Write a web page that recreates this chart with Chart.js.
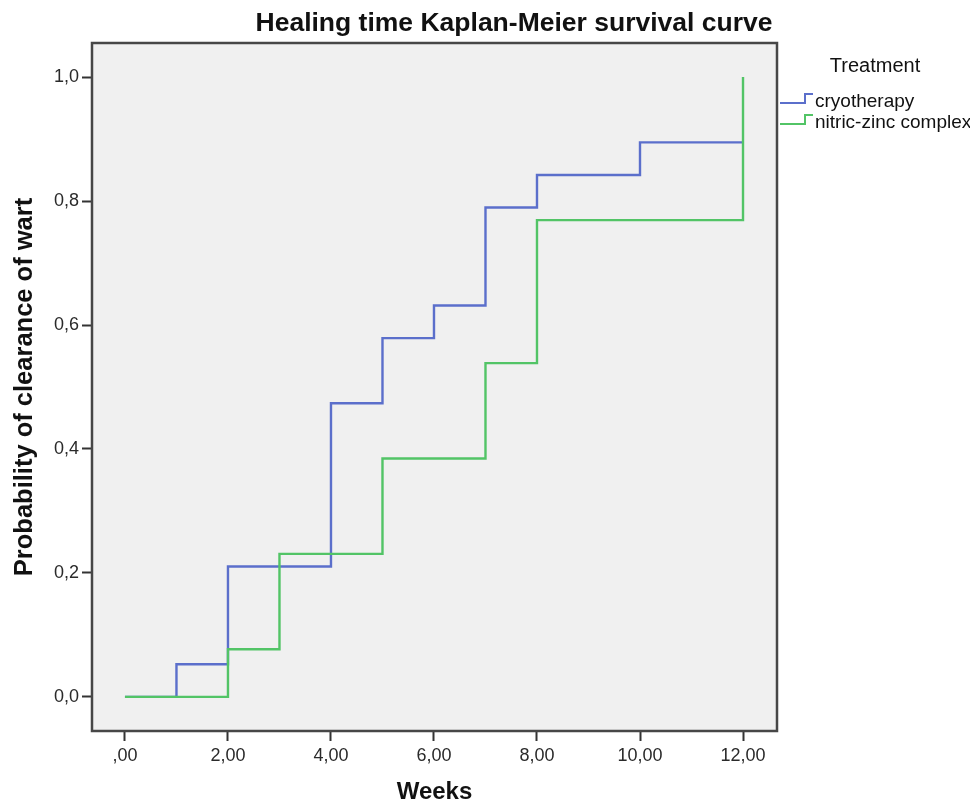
<!DOCTYPE html>
<html>
<head>
<meta charset="utf-8">
<script src="https://cdn.jsdelivr.net/npm/chart.js@4.4.1/dist/chart.umd.min.js"></script>
<style>
  html, body { margin: 0; padding: 0; background: #fff; }
  #km { display: block; }
</style>
</head>
<body>
<canvas id="km" width="970" height="807"></canvas>
<script>
// Kaplan-Meier steps (week of event, cumulative probability after it)
const weeksCryo   = [0, 1, 2, 4, 5, 6, 7, 8, 10, 12];
const probCryo    = [0, 0.0526, 0.2105, 0.4737, 0.5789, 0.6316, 0.7895, 0.8421, 0.8947, 0.8947];
const weeksNitric = [0, 2, 3, 5, 7, 8, 12];
const probNitric  = [0, 0.0769, 0.2308, 0.3846, 0.5385, 0.7692, 1.0];

const seriesLabels = ['cryotherapy', 'nitric-zinc complex'];
const seriesColors = ['#5b6fcb', '#52c466'];
const xTicks = [0, 2, 4, 6, 8, 10, 12];
const yTicks = [0, 0.2, 0.4, 0.6, 0.8, 1.0];

const FONT = '"Liberation Sans", Arial, sans-serif';

function _points(xs, ys) {
    return xs.map((x, i) => ({ x, y: ys[i] }));
}

// Panel background + frame, title and the step-style legend
const spssLook = {
    id: 'spssLook',
    beforeDatasetsDraw(chart) {
        const { ctx, chartArea: a } = chart;
        ctx.save();
        ctx.fillStyle = '#f0f0f0';
        ctx.fillRect(a.left, a.top, a.right - a.left, a.bottom - a.top);
        ctx.restore();
    },
    afterDraw(chart) {
        const { ctx, chartArea: a } = chart;
        ctx.save();
        ctx.strokeStyle = '#474747';
        ctx.lineWidth = 2.5;
        ctx.strokeRect(a.left, a.top, a.right - a.left, a.bottom - a.top);

        ctx.fillStyle = '#111';
        ctx.textAlign = 'center';
        ctx.textBaseline = 'middle';
        ctx.font = 'bold 26.5px ' + FONT;
        ctx.fillText('Healing time Kaplan-Meier survival curve', 514, 24);

        ctx.font = '20px ' + FONT;
        ctx.fillText('Treatment', 875, 66);

        ctx.textAlign = 'left';
        ctx.font = '19px ' + FONT;
        chart.data.datasets.forEach((ds, i) => {
            const y0 = 103 + i * 21;
            ctx.strokeStyle = ds.borderColor;
            ctx.lineWidth = 2;
            ctx.beginPath();
            ctx.moveTo(780, y0);
            ctx.lineTo(805, y0);
            ctx.lineTo(805, y0 - 9);
            ctx.lineTo(813, y0 - 9);
            ctx.stroke();
            ctx.fillStyle = '#111';
            ctx.fillText(ds.label, 815, y0 - 1);
        });
        ctx.restore();
    }
};

new Chart(document.getElementById('km'), {
    type: 'line',
    data: {
        datasets: [
            {
                label: seriesLabels[0],
                data: _points(weeksCryo, probCryo),
                borderColor: seriesColors[0],
                order: 2,
            },
            {
                label: seriesLabels[1],
                data: _points(weeksNitric, probNitric),
                borderColor: seriesColors[1],
                order: 1,
            }
        ]
    },
    options: {
        responsive: false,
        animation: false,
        parsing: false,
        layout: { padding: { left: 0, top: 43, right: 193, bottom: 0 } },
        elements: {
            line: { stepped: 'before', borderWidth: 2.4, fill: false, tension: 0 },
            point: { radius: 0, hoverRadius: 0 }
        },
        plugins: { legend: { display: false }, tooltip: { enabled: false }, title: { display: false } },
        scales: {
            x: {
                type: 'linear',
                min: -0.64,
                max: 12.66,
                afterBuildTicks: s => { s.ticks = xTicks.map(v => ({ value: v })); },
                afterFit: s => { s.height = 76; },
                border: { display: false },
                grid: { drawOnChartArea: false, tickLength: 10, tickWidth: 2, tickColor: '#333' },
                ticks: {
                    font: { size: 18, family: FONT },
                    color: '#2a2a2a',
                    padding: 4,
                    maxRotation: 0,
                    callback: v => v === 0 ? ',00' : v.toFixed(2).replace('.', ',')
                },
                title: {
                    display: true,
                    text: 'Weeks',
                    color: '#111',
                    font: { size: 24, weight: 'bold', family: FONT },
                    padding: { top: 0, bottom: 0 }
                }
            },
            y: {
                type: 'linear',
                min: -0.055,
                max: 1.055,
                afterBuildTicks: s => { s.ticks = yTicks.map(v => ({ value: v })); },
                afterFit: s => { s.width = 92; },
                border: { display: false },
                grid: { drawOnChartArea: false, tickLength: 10, tickWidth: 2, tickColor: '#333' },
                ticks: {
                    font: { size: 18, family: FONT },
                    color: '#2a2a2a',
                    padding: 3,
                    callback: v => v.toFixed(1).replace('.', ',')
                },
                title: {
                    display: true,
                    text: 'Probability of clearance of wart',
                    color: '#111',
                    font: { size: 25.5, weight: 'bold', family: FONT },
                    padding: { top: 10, bottom: 0 }
                }
            }
        }
    },
    plugins: [spssLook]
});
</script>
</body>
</html>
